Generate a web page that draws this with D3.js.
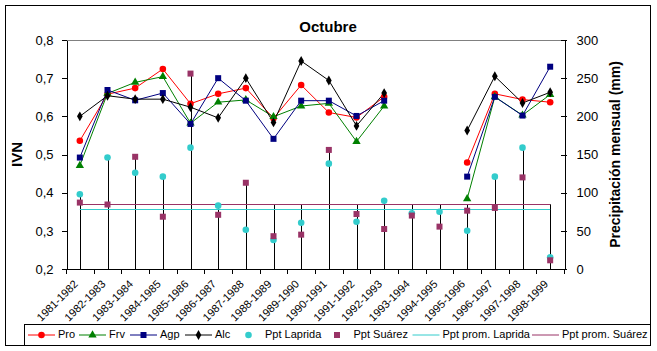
<!DOCTYPE html>
<html>
<head>
<meta charset="utf-8">
<script src="https://cdn.jsdelivr.net/npm/d3@7"></script>
<style>
  body { margin: 0; background: #fff; }
  text { font-family: Arial, "Liberation Sans", sans-serif; fill: #000; }
  .axis path, .axis line { stroke: #000; shape-rendering: crispEdges; }
</style>
</head>
<body>
<script>
var years = ["1981-1982","1982-1983","1983-1984","1984-1985","1985-1986","1986-1987",
  "1987-1988","1988-1989","1989-1990","1990-1991","1991-1992","1992-1993",
  "1993-1994","1994-1995","1995-1996","1996-1997","1997-1998","1998-1999"];

// IVN series (left axis)
var pro = [0.536,0.658,0.674,0.724,0.633,0.659,0.674,0.595,0.682,0.610,0.597,0.651,null,null,0.479,0.659,0.644,0.637];
var frv = [0.471,0.660,0.689,0.704,0.582,0.637,0.643,0.599,0.627,0.634,0.534,0.627,null,null,0.384,0.651,0.603,0.657];
var agp = [0.492,0.669,0.642,0.661,0.580,0.700,0.641,0.541,0.641,0.641,0.601,0.641,null,null,0.442,0.651,0.602,0.730];
var alc = [0.600,0.654,0.645,0.645,0.624,0.596,0.700,0.584,0.745,0.694,0.575,0.661,null,null,0.563,0.705,0.635,0.663];

// precipitation (right axis, mm)
var pptLaprida = [98,146,126,121,159,83,51.5,38,60.7,138,62,89.5,73,75,50,121,159,15.3];
var pptSuarez  = [87,84.5,147,68.5,256,71,113,43,45,156,72,52.4,70,55.5,76.4,80,120,11.4];
var promLaprida = 78.2;
var promSuarez = 84.8;

var leftTicks = [0.2,0.3,0.4,0.5,0.6,0.7,0.8];
var rightTicks = [0,50,100,150,200,250,300];

var W = 657, H = 351;
var L = 66, R = 564, T = 40, B = 269;

var svg = d3.select("body").append("svg")
  .attr("width", W)
  .attr("height", H);

// outer frame
svg.append("rect")
  .attr("x", 5.5).attr("y", 5.5)
  .attr("width", 645).attr("height", 340)
  .attr("fill", "#fff").attr("stroke", "#000");

var x = d3.scaleBand().domain(years).range([L, R]);
var yL = d3.scaleLinear().domain([0.2, 0.8]).range([B, T]);
var yR = d3.scaleLinear().domain([0, 300]).range([B, T]);
var cx = function(i) { return x(years[i]) + x.bandwidth() / 2; };

// plot area top border (grey)
svg.append("line")
  .attr("x1", L).attr("x2", R).attr("y1", T + 0.5).attr("y2", T + 0.5)
  .attr("stroke", "#808080");

// drop lines for the precipitation group
svg.append("g").selectAll("line")
  .data(years)
  .enter().append("line")
  .attr("x1", function(d, i) { return Math.round(cx(i)) + 0.5; })
  .attr("x2", function(d, i) { return Math.round(cx(i)) + 0.5; })
  .attr("y1", B)
  .attr("y2", function(d, i) {
    return yR(Math.max(pptLaprida[i], pptSuarez[i], promLaprida, promSuarez));
  })
  .attr("stroke", "#000");

// average lines
svg.append("line")
  .attr("x1", cx(0)).attr("x2", cx(years.length - 1))
  .attr("y1", Math.round(yR(promLaprida)) + 0.5).attr("y2", Math.round(yR(promLaprida)) + 0.5)
  .attr("stroke", "#33CCCC");
svg.append("line")
  .attr("x1", cx(0)).attr("x2", cx(years.length - 1))
  .attr("y1", Math.round(yR(promSuarez)) + 0.5).attr("y2", Math.round(yR(promSuarez)) + 0.5)
  .attr("stroke", "#993366");

// axes
var fmt = function(d) { return d3.format(".1f")(d).replace(".", ","); };

var gLeft = svg.append("g")
  .attr("class", "axis")
  .attr("transform", "translate(" + (L + 0.5) + ",0)")
  .call(d3.axisLeft(yL).tickValues(leftTicks).tickFormat(fmt).tickSize(5).tickSizeOuter(0).tickPadding(8));
gLeft.selectAll("text").style("font-size", "13px");

var gRight = svg.append("g")
  .attr("class", "axis")
  .attr("transform", "translate(" + (R + 0.5) + ",0)")
  .call(d3.axisRight(yR).tickValues(rightTicks).tickSize(2).tickSizeOuter(0).tickPadding(10));
gRight.selectAll(".tick line").attr("x1", -4);
gRight.selectAll("text").style("font-size", "13px");

// category axis: line, boundary ticks, rotated labels
var gBottom = svg.append("g").attr("class", "axis");
gBottom.append("line")
  .attr("x1", L).attr("x2", R + 1)
  .attr("y1", B + 0.5).attr("y2", B + 0.5);
gBottom.selectAll(".bt")
  .data(years.concat(["end"]))
  .enter().append("line")
  .attr("class", "bt")
  .attr("x1", function(d, i) { return Math.round(i < years.length ? x(d) : R) + 0.5; })
  .attr("x2", function(d, i) { return Math.round(i < years.length ? x(d) : R) + 0.5; })
  .attr("y1", B).attr("y2", B + 5);
gBottom.selectAll(".lbl")
  .data(years)
  .enter().append("text")
  .attr("class", "lbl")
  .attr("text-anchor", "end")
  .attr("transform", function(d, i) {
    return "translate(" + (cx(i) - 4) + "," + (B + 13) + ") rotate(-45)";
  })
  .attr("dy", "0.35em")
  .style("font-size", "11px")
  .text(function(d) { return d; });

// IVN lines
var series = [
  { name: "Pro", values: pro, color: "#FF0000", sym: "circle" },
  { name: "Frv", values: frv, color: "#008000", sym: "triangle" },
  { name: "Agp", values: agp, color: "#000080", sym: "square" },
  { name: "Alc", values: alc, color: "#000000", sym: "diamond" }
];

var symGen = {
  circle: d3.symbol().type(d3.symbolCircle).size(34),
  triangle: d3.symbol().type(d3.symbolTriangle).size(30),
  square: d3.symbol().type(d3.symbolSquare).size(36),
  diamond: d3.symbol().type(d3.symbolDiamond).size(28)
};

var line = d3.line()
  .defined(function(d) { return d != null; })
  .x(function(d, i) { return cx(i); })
  .y(function(d) { return yL(d); });

series.forEach(function(s) {
  svg.append("path")
    .datum(s.values)
    .attr("fill", "none")
    .attr("stroke", s.color)
    .attr("stroke-width", 1)
    .attr("d", line);
});

series.forEach(function(s) {
  svg.append("g").selectAll("path")
    .data(s.values.map(function(v, i) { return { v: v, i: i }; })
      .filter(function(d) { return d.v != null; }))
    .enter().append("path")
    .attr("transform", function(d) { return "translate(" + cx(d.i) + "," + yL(d.v) + ")"; })
    .attr("d", symGen[s.sym])
    .attr("fill", s.color);
});

// precipitation markers
svg.append("g").selectAll("path")
  .data(pptLaprida)
  .enter().append("path")
  .attr("transform", function(d, i) { return "translate(" + cx(i) + "," + yR(d) + ")"; })
  .attr("d", symGen.circle)
  .attr("fill", "#33CCCC");
svg.append("g").selectAll("path")
  .data(pptSuarez)
  .enter().append("path")
  .attr("transform", function(d, i) { return "translate(" + cx(i) + "," + yR(d) + ")"; })
  .attr("d", symGen.square)
  .attr("fill", "#993366");

// titles
svg.append("text")
  .attr("x", 328).attr("y", 32)
  .attr("text-anchor", "middle")
  .style("font-size", "15px").style("font-weight", "bold")
  .text("Octubre");

svg.append("text")
  .attr("transform", "translate(22," + ((T + B) / 2) + ") rotate(-90)")
  .attr("text-anchor", "middle")
  .style("font-size", "15px").style("font-weight", "bold")
  .text("IVN");

svg.append("text")
  .attr("transform", "translate(620," + ((T + B) / 2) + ") rotate(-90)")
  .attr("text-anchor", "middle")
  .style("font-size", "14px").style("font-weight", "bold")
  .text("Precipitación mensual (mm)");

// legend
var legendItems = [
  { name: "Pro", color: "#FF0000", sym: "circle", line: true },
  { name: "Frv", color: "#008000", sym: "triangle", line: true },
  { name: "Agp", color: "#000080", sym: "square", line: true },
  { name: "Alc", color: "#000000", sym: "diamond", line: true },
  { name: "Ppt Laprida", color: "#33CCCC", sym: "circle", line: false },
  { name: "Ppt Suárez", color: "#993366", sym: "square", line: false },
  { name: "Ppt prom. Laprida", color: "#33CCCC", sym: null, line: true },
  { name: "Ppt prom. Suárez", color: "#993366", sym: null, line: true }
];
var legendX = [28, 79, 130, 185, 235, 323.5, 412.5, 532];
var ly = 334.5;

svg.append("rect")
  .attr("x", 24.5).attr("y", 324.5)
  .attr("width", 626).attr("height", 21)
  .attr("fill", "#fff").attr("stroke", "#000");

var lg = svg.append("g").selectAll("g")
  .data(legendItems)
  .enter().append("g")
  .attr("transform", function(d, i) { return "translate(" + legendX[i] + "," + ly + ")"; });

lg.filter(function(d) { return d.line; })
  .append("line")
  .attr("x1", 0).attr("x2", 27)
  .attr("y1", 0.5).attr("y2", 0.5)
  .attr("stroke", function(d) { return d.color; });

lg.filter(function(d) { return d.sym; })
  .append("path")
  .attr("transform", "translate(13.5,0.5)")
  .attr("d", function(d) { return symGen[d.sym](); })
  .attr("fill", function(d) { return d.color; });

lg.append("text")
  .attr("x", 30).attr("y", 0)
  .attr("dy", "0.35em")
  .style("font-size", "11px")
  .text(function(d) { return d.name; });
</script>
</body>
</html>
